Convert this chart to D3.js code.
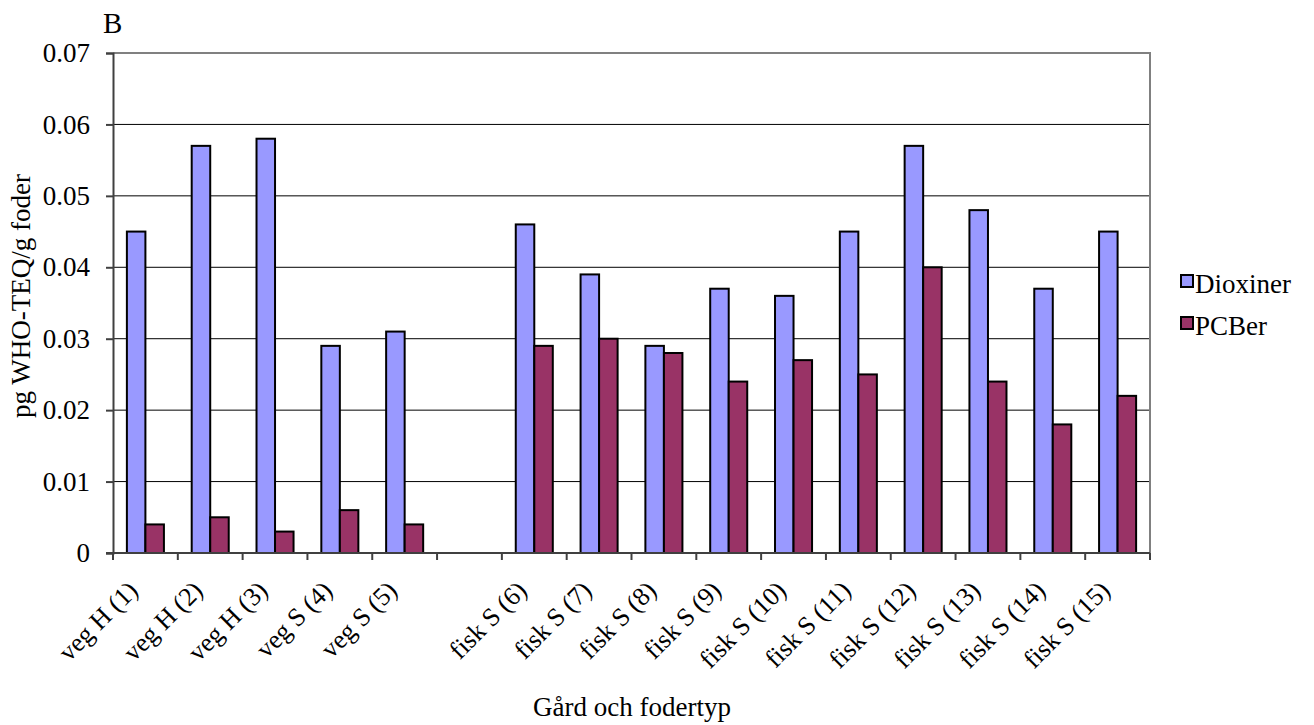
<!DOCTYPE html>
<html>
<head>
<meta charset="utf-8">
<script src="https://cdn.jsdelivr.net/npm/d3@7"></script>
<style>
  body { margin: 0; background: #fff; }
</style>
</head>
<body>
<svg id="chart" width="1314" height="725"></svg>
<script>
const categories = ["veg H (1)", "veg H (2)", "veg H (3)", "veg S (4)", "veg S (5)", "",
  "fisk S (6)", "fisk S (7)", "fisk S (8)", "fisk S (9)", "fisk S (10)", "fisk S (11)",
  "fisk S (12)", "fisk S (13)", "fisk S (14)", "fisk S (15)"]
const dioxiner = [0.045, 0.057, 0.058, 0.029, 0.031, null, 0.046, 0.039, 0.029, 0.037, 0.036, 0.045, 0.057, 0.048, 0.037, 0.045]
const pcber    = [0.004, 0.005, 0.003, 0.006, 0.004, null, 0.029, 0.030, 0.028, 0.024, 0.027, 0.025, 0.040, 0.024, 0.018, 0.022]
const seriesNames = ["Dioxiner", "PCBer"]
const colors = ["#9999ff", "#993366"]
const yTicks = [0, 0.01, 0.02, 0.03, 0.04, 0.05, 0.06, 0.07]

const plotL = 113, plotR = 1150, plotT = 53, plotB = 553
const FONT = "'Liberation Serif', 'Times New Roman', serif"

const svg = d3.select("#chart")
  .attr("font-family", FONT)

const x = d3.scaleBand().domain(d3.range(categories.length)).range([plotL, plotR])
const y = d3.scaleLinear().domain([0, 0.07]).range([plotB, plotT])

// bar layout: two bars per group, gap of 150% of a bar width
const bw = x.bandwidth() / 3.5
const inner = d3.scaleBand().domain([0, 1]).range([0.75 * bw, 2.75 * bw])

// grid
svg.append("g")
  .selectAll("line")
  .data(yTicks.slice(1, -1))
  .join("line")
    .attr("x1", plotL).attr("x2", plotR)
    .attr("y1", d => y(d)).attr("y2", d => y(d))
    .attr("stroke", "#000").attr("stroke-width", 1)

// plot border (top / right in gray)
svg.append("path")
  .attr("d", `M${plotL},${plotT}H${plotR}V${plotB}`)
  .attr("fill", "none").attr("stroke", "#808080").attr("stroke-width", 2)

// bars
const data = categories.map((c, i) => [dioxiner[i], pcber[i]])
const groups = svg.append("g")
  .selectAll("g")
  .data(data)
  .join("g")
    .attr("transform", (d, i) => `translate(${x(i)},0)`)

groups.selectAll("rect")
  .data(d => d.map((v, j) => ({ v, j })).filter(e => e.v != null))
  .join("rect")
    .attr("x", e => inner(e.j))
    .attr("width", inner.bandwidth())
    .attr("y", e => y(e.v))
    .attr("height", e => plotB - y(e.v))
    .attr("fill", e => colors[e.j])
    .attr("stroke", "#000")
    .attr("stroke-width", 2)

// y axis
const yAxis = svg.append("g")
  .attr("transform", `translate(${plotL},0)`)
  .call(d3.axisLeft(y).tickValues(yTicks).tickSize(7).tickPadding(16)
    .tickFormat(d => d === 0 ? "0" : d3.format(".2f")(d)))
  .attr("font-family", FONT)
  .attr("font-size", 27)
yAxis.select(".domain").attr("stroke", "#404040").attr("stroke-width", 2)
yAxis.selectAll(".tick line").attr("stroke", "#404040").attr("stroke-width", 2)
yAxis.selectAll(".tick text").attr("fill", "#000")

// x axis
const xAxis = svg.append("g")
  .attr("transform", `translate(0,${plotB})`)
xAxis.append("line")
  .attr("x1", plotL - 7).attr("x2", plotR)
  .attr("stroke", "#404040").attr("stroke-width", 2)
xAxis.selectAll("line.tk")
  .data(d3.range(categories.length + 1))
  .join("line")
    .attr("class", "tk")
    .attr("x1", i => plotL + i * x.step()).attr("x2", i => plotL + i * x.step())
    .attr("y1", 0).attr("y2", 7)
    .attr("stroke", "#404040").attr("stroke-width", 2)
xAxis.selectAll("text")
  .data(categories)
  .join("text")
    .attr("transform", (d, i) => `translate(${x(i) + x.bandwidth() / 2 - 6},39) rotate(-45)`)
    .attr("text-anchor", "end")
    .attr("font-size", 26)
    .text(d => d)

// titles
svg.append("text").attr("x", 103).attr("y", 33).attr("font-size", 29).text("B")
svg.append("text")
  .attr("transform", `translate(30,296) rotate(-90)`)
  .attr("text-anchor", "middle").attr("font-size", 27)
  .text("pg WHO-TEQ/g foder")
svg.append("text")
  .attr("x", 632).attr("y", 716)
  .attr("text-anchor", "middle").attr("font-size", 27)
  .text("Gård och fodertyp")

// legend
const legend = svg.append("g").attr("transform", "translate(1181,275)")
const li = legend.selectAll("g").data(seriesNames).join("g")
  .attr("transform", (d, i) => `translate(0,${i * 42})`)
li.append("rect").attr("width", 12).attr("height", 12)
  .attr("fill", (d, i) => colors[i]).attr("stroke", "#000").attr("stroke-width", 2)
li.append("text").attr("x", 14).attr("y", 18).attr("font-size", 27).text(d => d)
</script>
</body>
</html>
